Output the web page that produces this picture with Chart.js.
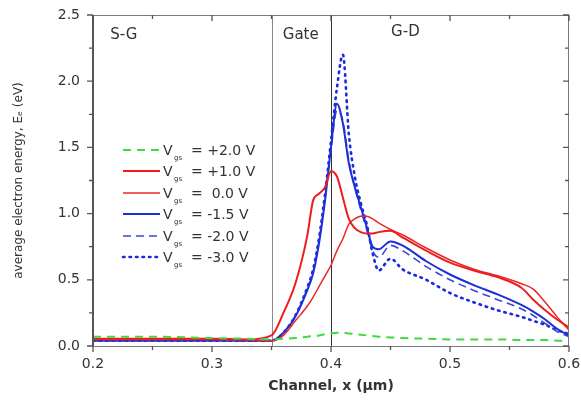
<!DOCTYPE html>
<html>
<head>
<meta charset="utf-8">
<title>Average electron energy along the channel</title>
<script src="https://cdn.jsdelivr.net/npm/chart.js@4/dist/chart.umd.min.js"></script>
<style>
  html, body { margin: 0; padding: 0; background: #fff; }
  #wrap { width: 581px; height: 402px; position: relative; }
</style>
</head>
<body>
<div id="wrap"><canvas id="energy-chart"></canvas></div>
<script>
// Channel position, um
const channelX = [0.20, 0.25, 0.30, 0.33, 0.35, 0.36, 0.37, 0.38, 0.385, 0.39, 0.395, 0.40, 0.405, 0.41, 0.415,
  0.42, 0.425, 0.43, 0.435, 0.44, 0.45, 0.46, 0.48, 0.50, 0.52, 0.54, 0.56, 0.57, 0.58, 0.59, 0.60];

// Average electron energy, eV, one array per gate bias
const vgsPlus20 = [0.07, 0.07, 0.06, 0.055, 0.05, 0.055, 0.06, 0.07, 0.075, 0.08, 0.09, 0.095, 0.10, 0.10, 0.095,
  0.09, 0.085, 0.08, 0.075, 0.07, 0.065, 0.06, 0.055, 0.05, 0.05, 0.05, 0.045, 0.045, 0.045, 0.04, 0.04];
const vgsPlus10 = [0.055, 0.055, 0.055, 0.05, 0.08, 0.25, 0.47, 0.83, 1.10, 1.15, 1.20, 1.32, 1.28, 1.12, 0.96,
  0.89, 0.86, 0.85, 0.85, 0.86, 0.87, 0.82, 0.72, 0.63, 0.57, 0.52, 0.44, 0.35, 0.27, 0.20, 0.14];
const vgsZero = [0.05, 0.05, 0.05, 0.045, 0.04, 0.08, 0.19, 0.30, 0.37, 0.45, 0.53, 0.61, 0.72, 0.81, 0.92,
  0.96, 0.98, 0.98, 0.96, 0.93, 0.88, 0.84, 0.74, 0.65, 0.58, 0.53, 0.47, 0.43, 0.33, 0.22, 0.12];
const vgsMinus15 = [0.04, 0.04, 0.04, 0.04, 0.04, 0.10, 0.22, 0.42, 0.55, 0.78, 1.10, 1.50, 1.83, 1.68, 1.38,
  1.20, 1.05, 0.90, 0.75, 0.73, 0.79, 0.76, 0.64, 0.54, 0.46, 0.39, 0.31, 0.26, 0.20, 0.13, 0.08];
const vgsMinus20 = [0.045, 0.045, 0.045, 0.04, 0.04, 0.10, 0.23, 0.43, 0.56, 0.80, 1.12, 1.48, 1.78, 1.70, 1.40,
  1.20, 1.03, 0.88, 0.72, 0.67, 0.76, 0.72, 0.60, 0.50, 0.42, 0.35, 0.28, 0.23, 0.17, 0.11, 0.07];
const vgsMinus30 = [0.04, 0.04, 0.04, 0.04, 0.04, 0.10, 0.23, 0.44, 0.58, 0.82, 1.15, 1.55, 1.95, 2.20, 1.60,
  1.28, 1.08, 0.92, 0.70, 0.57, 0.66, 0.58, 0.50, 0.40, 0.33, 0.27, 0.22, 0.19, 0.16, 0.12, 0.09];

const biasLabels = ['+2.0 V', '+1.0 V', ' 0.0 V', '-1.5 V', '-2.0 V', '-3.0 V'];
const regionLabels = ['S-G', 'Gate', 'G-D'];
const regionLabelX = [0.2145, 0.3595, 0.4505];
const regionBorders = [0.35, 0.40];

const FONT = '"DejaVu Sans", "Liberation Sans", sans-serif';
const TEXT_COLOR = '#333';

const toPoints = (ys) => ys.map((y, i) => ({ x: channelX[i], y: y }));

// Styles for each curve, in legend order
const seriesStyles = [
  { values: vgsPlus20, color: '#3ddc3d', width: 2, dash: [8, 6] },
  { values: vgsPlus10, color: '#ee1c1c', width: 2, dash: [] },
  { values: vgsZero, color: '#e82828', width: 1.5, dash: [] },
  { values: vgsMinus15, color: '#1f2fd8', width: 2, dash: [] },
  { values: vgsMinus20, color: '#3a48dc', width: 1.6, dash: [8, 5] },
  { values: vgsMinus30, color: '#1a2ae0', width: 2.6, dash: [1.5, 5] }
];

const isDotted = (s) => s.dash.length > 0 && s.dash[0] < 3;

const datasets = seriesStyles.map((s, i) => ({
  label: 'Vgs = ' + biasLabels[i],
  data: toPoints(s.values),
  borderColor: s.color,
  borderWidth: s.width,
  borderDash: s.dash,
  borderCapStyle: isDotted(s) ? 'round' : 'butt',
  pointRadius: 0,
  fill: false,
  cubicInterpolationMode: 'monotone'
}));

/**
 * Region separators and region names
 */
const regionPlugin = {
  id: 'regions',
  beforeDatasetsDraw(chart) {
    const { ctx, chartArea, scales } = chart;
    ctx.save();
    regionBorders.forEach((v, i) => {
      const px = Math.round(scales.x.getPixelForValue(v)) + 0.5;
      ctx.strokeStyle = i === 0 ? '#8a8a8a' : '#333';
      ctx.lineWidth = 1;
      ctx.beginPath();
      ctx.moveTo(px, chartArea.top);
      ctx.lineTo(px, chartArea.bottom);
      ctx.stroke();
    });
    ctx.fillStyle = TEXT_COLOR;
    ctx.font = '15px ' + FONT;
    ctx.textBaseline = 'middle';
    ctx.textAlign = 'left';
    regionLabels.forEach((text, i) => {
      const y = i === 2 ? 32 : 35;
      ctx.fillText(text, scales.x.getPixelForValue(regionLabelX[i]), y);
    });
    ctx.restore();
  }
};

/**
 * Box frame: outward ticks at bottom/left, inward ticks at top/right
 */
const framePlugin = {
  id: 'frame',
  afterDatasetsDraw(chart) {
    const { ctx, chartArea, scales } = chart;
    const { left, right, top, bottom } = chartArea;
    ctx.save();
    ctx.strokeStyle = '#7a7a7a';
    ctx.lineWidth = 1;
    ctx.strokeRect(left + 0.5, top + 0.5, right - left - 1, bottom - top);
    ctx.strokeStyle = '#555';
    ctx.lineWidth = 2;
    ctx.beginPath();
    ctx.moveTo(left, top);
    ctx.lineTo(left, bottom);
    ctx.stroke();

    ctx.lineWidth = 1.3;
    for (let k = 0; k <= 8; k++) {
      const px = scales.x.getPixelForValue(0.2 + k * 0.05);
      const len = k % 2 === 0 ? 6 : 4;
      ctx.beginPath();
      ctx.moveTo(px, bottom);
      ctx.lineTo(px, bottom + len);
      ctx.moveTo(px, top);
      ctx.lineTo(px, top + len);
      ctx.stroke();
    }
    for (let k = 0; k <= 10; k++) {
      const py = scales.y.getPixelForValue(k * 0.25);
      const len = k % 2 === 0 ? 6 : 4;
      ctx.beginPath();
      ctx.moveTo(left, py);
      ctx.lineTo(left - len, py);
      ctx.moveTo(right, py);
      ctx.lineTo(right - len, py);
      ctx.stroke();
    }
    ctx.restore();
  }
};

/**
 * Legend with subscripted V_gs labels
 */
const legendPlugin = {
  id: 'vgsLegend',
  afterDraw(chart) {
    const { ctx } = chart;
    const rows = [150, 171, 193, 214, 236, 257];
    ctx.save();
    seriesStyles.forEach((s, i) => {
      const y = rows[i];
      ctx.strokeStyle = s.color;
      ctx.lineWidth = s.width;
      ctx.setLineDash(s.dash);
      ctx.lineCap = isDotted(s) ? 'round' : 'butt';
      ctx.beginPath();
      ctx.moveTo(123, y);
      ctx.lineTo(160, y);
      ctx.stroke();
      ctx.setLineDash([]);

      ctx.fillStyle = TEXT_COLOR;
      ctx.textBaseline = 'alphabetic';
      ctx.textAlign = 'left';
      ctx.font = '14px ' + FONT;
      ctx.fillText('V', 163, y + 5);
      ctx.font = '7px ' + FONT;
      ctx.fillText('gs', 174, y + 10);
      ctx.font = '14px ' + FONT;
      ctx.fillText('= ' + biasLabels[i], 191, y + 5);
    });
    ctx.restore();
  }
};

const ctx = document.getElementById('energy-chart').getContext('2d');

new Chart(ctx, {
  type: 'line',
  data: { datasets: datasets },
  options: {
    responsive: true,
    maintainAspectRatio: false,
    animation: false,
    layout: { padding: { top: 15, right: 12, left: 0, bottom: 0 } },
    plugins: {
      legend: { display: false },
      tooltip: { enabled: false }
    },
    scales: {
      x: {
        type: 'linear',
        min: 0.2,
        max: 0.6,
        afterFit: (scale) => {
          scale.height = 56;
          scale.paddingLeft = 0;
          scale.paddingRight = 0;
        },
        grid: { display: false, drawTicks: false },
        border: { display: false },
        ticks: {
          stepSize: 0.1,
          padding: 10,
          color: TEXT_COLOR,
          font: { family: FONT, size: 14 },
          callback: (v) => Number(v).toFixed(1)
        },
        title: {
          display: true,
          text: 'Channel, x (\u03bcm)',
          color: TEXT_COLOR,
          font: { family: FONT, size: 14, weight: 'bold' },
          padding: { top: 0, bottom: 7 }
        }
      },
      y: {
        min: 0,
        max: 2.5,
        afterFit: (scale) => {
          scale.width = 93;
          scale.paddingTop = 0;
        },
        grid: { display: false, drawTicks: false },
        border: { display: false },
        ticks: {
          stepSize: 0.5,
          padding: 13,
          color: TEXT_COLOR,
          font: { family: FONT, size: 14 },
          callback: (v) => Number(v).toFixed(1)
        },
        title: {
          display: true,
          text: 'average electron energy, E\u2091 (eV)',
          color: TEXT_COLOR,
          font: { family: FONT, size: 12 },
          padding: { top: 12, bottom: 0 }
        }
      }
    }
  },
  plugins: [regionPlugin, framePlugin, legendPlugin]
});
</script>
</body>
</html>
